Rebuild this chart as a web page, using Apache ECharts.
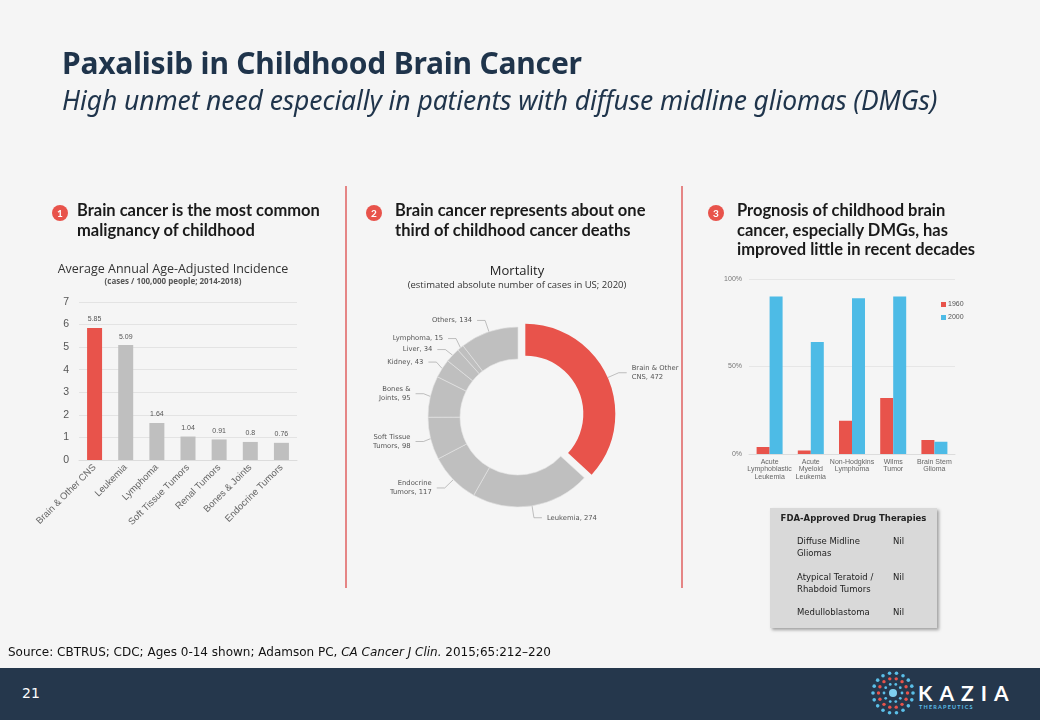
<!DOCTYPE html>
<html>
<head>
<meta charset="utf-8">
<script src="https://cdn.jsdelivr.net/npm/echarts@6/dist/echarts.min.js"></script>
<style>
  html, body { margin: 0; padding: 0; background: #f5f5f5; }
  #slide { position: relative; width: 1040px; height: 720px; overflow: hidden; background: #f5f5f5; }
  #chart { position: absolute; left: 0; top: 0; width: 1040px; height: 720px; }
  .t { position: absolute; white-space: nowrap; }
  .title { left: 62px; top: 42px; font: 700 30px "Noto Sans", sans-serif; color: #1f344b; letter-spacing: -0.2px; }
  .sub { left: 62px; top: 82px; font: italic 400 26.5px "Noto Sans", sans-serif; color: #1f344b; letter-spacing: -0.1px; }
  .head { font: 700 16.5px Lato, sans-serif; color: #1a1a1a; line-height: 19.5px; }
  .num { position: absolute; width: 16px; height: 16px; border-radius: 8px; background: #e8534b;
         color: #fff; font: 700 10px Lato, sans-serif; text-align: center; line-height: 16px; }
  .div { position: absolute; width: 1.5px; background: #e58585; top: 186px; height: 402px; }
  .src { left: 8px; top: 645px; font: 12px "DejaVu Sans", sans-serif; color: #111; }
  .foot { position: absolute; left: 0; top: 668px; width: 1040px; height: 52px; background: #25374c; }
  .pg { left: 22px; top: 685px; font: 14px "DejaVu Sans", sans-serif; color: #fff; }
  .fda { position: absolute; left: 770px; top: 508px; width: 167px; height: 120px; background: #d9d9d9;
         box-shadow: 2px 2px 3px rgba(0,0,0,0.35); font: 8.5px "DejaVu Sans", sans-serif; color: #222; }
  .fda div { position: absolute; white-space: nowrap; line-height: 12px; }
  .kazia { left: 918px; top: 680px; font: 700 21px Lato, sans-serif; color: #fff; letter-spacing: 7px; }
  .ther { left: 919px; top: 704px; font: 700 5.5px Lato, sans-serif; color: #5bbfe8; letter-spacing: 1.2px; }
</style>
</head>
<body>
<div id="slide">
  <div id="chart"></div>

  <div class="t title">Paxalisib in Childhood Brain Cancer</div>
  <div class="t sub">High unmet need especially in patients with diffuse midline gliomas (DMGs)</div>

  <div class="num" style="left:52px;top:205px">1</div>
  <div class="t head" style="left:77px;top:201px">Brain cancer is the most common<br>malignancy of childhood</div>
  <div class="num" style="left:366px;top:205px">2</div>
  <div class="t head" style="left:395px;top:201px">Brain cancer represents about one<br>third of childhood cancer deaths</div>
  <div class="num" style="left:708px;top:205px">3</div>
  <div class="t head" style="left:737px;top:201px">Prognosis of childhood brain<br>cancer, especially DMGs, has<br>improved little in recent decades</div>

  <div class="div" style="left:345px"></div>
  <div class="div" style="left:681px"></div>

  <div class="fda">
    <div style="left:0;width:167px;text-align:center;top:4px;font-weight:700">FDA-Approved Drug Therapies</div>
    <div style="left:27px;top:27px">Diffuse Midline<br>Gliomas</div>
    <div style="left:123px;top:27px">Nil</div>
    <div style="left:27px;top:63px">Atypical Teratoid /<br>Rhabdoid Tumors</div>
    <div style="left:123px;top:63px">Nil</div>
    <div style="left:27px;top:98px">Medulloblastoma</div>
    <div style="left:123px;top:98px">Nil</div>
  </div>

  <div class="t src">Source: CBTRUS; CDC; Ages 0-14 shown; Adamson PC, <i>CA Cancer J Clin.</i> 2015;65:212–220</div>

  <div class="foot"></div>
  <div class="t pg">21</div>
  <svg id="logo" style="position:absolute;left:869px;top:669px" width="48" height="48"></svg>
  <div class="t kazia">KAZIA</div>
  <div class="t ther">THERAPEUTICS</div>
</div>

<script>
// incidence (cases / 100,000 people; 2014-2018)
const incCats = ['Brain & Other CNS', 'Leukemia', 'Lymphoma', 'Soft Tissue Tumors', 'Renal Tumors', 'Bones & Joints', 'Endocrine Tumors'];
const incVals = [5.85, 5.09, 1.64, 1.04, 0.91, 0.8, 0.76];

// mortality (estimated absolute number of cases in US; 2020)
const mortNames = ['Brain & Other\nCNS', 'Leukemia', 'Endocrine\nTumors', 'Soft Tissue\nTumors', 'Bones &\nJoints', 'Kidney', 'Liver', 'Lymphoma', 'Others'];
const mortVals = [472, 274, 117, 98, 95, 43, 34, 15, 134];

// survival by decade (%)
const survCats = ['Acute\nLymphoblastic\nLeukemia', 'Acute\nMyeloid\nLeukemia', 'Non-Hodgkins\nLymphoma', 'Wilms\nTumor', 'Brain Stem\nGlioma'];
const surv1960 = [4, 2, 19, 32, 8];
const surv2000 = [90, 64, 89, 90, 7];

const RED = '#e8534b';
const GREY = '#bfbfbf';
const BLUE = '#4dbbe6';

let myChart = echarts.init(document.getElementById('chart'));
var option;

option = {
  animation: false,
  title: [{
    text: 'Average Annual Age-Adjusted Incidence',
    subtext: '(cases / 100,000 people; 2014-2018)',
    left: 168, top: 258, textAlign: 'center', itemGap: 2,
    textStyle: { fontFamily: 'Open Sans', fontSize: 12.5, fontWeight: 'normal', color: '#333' },
    subtextStyle: { fontFamily: 'Open Sans', fontSize: 8, fontWeight: 'bold', color: '#555' }
  }, {
    text: 'Mortality',
    subtext: '(estimated absolute number of cases in US; 2020)',
    left: 512, top: 260, textAlign: 'center', itemGap: 2,
    textStyle: { fontFamily: 'Open Sans', fontSize: 13, fontWeight: 'normal', color: '#222' },
    subtextStyle: { fontFamily: 'Open Sans', fontSize: 9.5, color: '#333' }
  }],
  legend: {
    data: ['1960', '2000'],
    orient: 'vertical',
    left: 936, top: 296,
    itemWidth: 5, itemHeight: 5, itemGap: 6,
    icon: 'rect',
    textStyle: { fontFamily: 'Liberation Sans', fontSize: 7, color: '#555', padding: [0, 0, 0, -3] }
  },
  grid: [
    { left: 79, top: 302, width: 218, height: 158 },
    { left: 749, top: 279, width: 206, height: 175 }
  ],
  xAxis: [{
    gridIndex: 0,
    type: 'category',
    data: incCats,
    axisTick: { show: false },
    axisLine: { lineStyle: { color: '#dcdcdc' } },
    axisLabel: { rotate: 45, interval: 0, margin: 6, fontFamily: 'Liberation Sans', fontSize: 9.5, color: '#666' }
  }, {
    gridIndex: 1,
    type: 'category',
    data: survCats,
    axisTick: { show: false },
    axisLine: { lineStyle: { color: '#dcdcdc' } },
    axisLabel: { interval: 0, margin: 4, lineHeight: 7.5, fontFamily: 'Liberation Sans', fontSize: 7, color: '#666' }
  }],
  yAxis: [{
    gridIndex: 0,
    type: 'value',
    min: 0, max: 7, interval: 1,
    axisLine: { show: false },
    axisTick: { show: false },
    splitLine: { lineStyle: { color: '#e3e3e3' } },
    axisLabel: { margin: 10, fontFamily: 'Liberation Sans', fontSize: 10.5, color: '#555' }
  }, {
    gridIndex: 1,
    type: 'value',
    min: 0, max: 100, interval: 50,
    axisLine: { show: false },
    axisTick: { show: false },
    splitLine: { lineStyle: { color: '#e6e6e6' } },
    axisLabel: { formatter: '{value}%', margin: 7, fontFamily: 'Liberation Sans', fontSize: 7, color: '#777' }
  }],
  series: [{
    type: 'bar',
    xAxisIndex: 0, yAxisIndex: 0,
    barWidth: 15,
    data: incVals.map((v, i) => ({ value: v, itemStyle: { color: i === 0 ? RED : GREY } })),
    label: { show: true, position: 'top', distance: 5, fontFamily: 'Liberation Sans', fontSize: 7, color: '#555' }
  }, {
    name: '1960',
    type: 'bar',
    xAxisIndex: 1, yAxisIndex: 1,
    barWidth: 13, barGap: '0%',
    itemStyle: { color: RED },
    data: surv1960
  }, {
    name: '2000',
    type: 'bar',
    xAxisIndex: 1, yAxisIndex: 1,
    barWidth: 13, barGap: '0%',
    itemStyle: { color: BLUE },
    data: surv2000
  }, {
    type: 'pie',
    center: [518, 417],
    radius: [58, 90],
    startAngle: 90,
    clockwise: true,
    selectedMode: 'single',
    selectedOffset: 8,
    itemStyle: { borderColor: '#e4e4e4', borderWidth: 0.6 },
    label: {
      formatter: '{b}, {c}',
      fontFamily: 'DejaVu Sans', fontSize: 6.8, color: '#555', lineHeight: 9
    },
    labelLine: { length: 12, length2: 8, lineStyle: { color: '#999', width: 0.6 } },
    data: mortNames.map((n, i) => ({
      name: n, value: mortVals[i], selected: i === 0,
      itemStyle: { color: i === 0 ? RED : GREY, borderWidth: i === 0 ? 0 : 0.6 }
    }))
  }]
};

myChart.setOption(option);
window.addEventListener('resize', function () {
  myChart.resize();
});

// logo dots
const svg = document.getElementById('logo');
function dot(cx, cy, r, c) {
  const el = document.createElementNS('http://www.w3.org/2000/svg', 'circle');
  el.setAttribute('cx', cx); el.setAttribute('cy', cy); el.setAttribute('r', r); el.setAttribute('fill', c);
  svg.appendChild(el);
}
[[20, 1.8, 18, '#5bbfe8'], [14.5, 1.7, 14, '#e8534b'], [9, 1.4, 10, '#5bbfe8']].forEach(([rr, r, n, c]) => {
  for (let k = 0; k < n; k++) {
    const a = 2 * Math.PI * k / n;
    dot(24 + rr * Math.cos(a), 24 + rr * Math.sin(a), r, c);
  }
});
dot(24, 24, 4, '#7fd0f0');
</script>
</body>
</html>
